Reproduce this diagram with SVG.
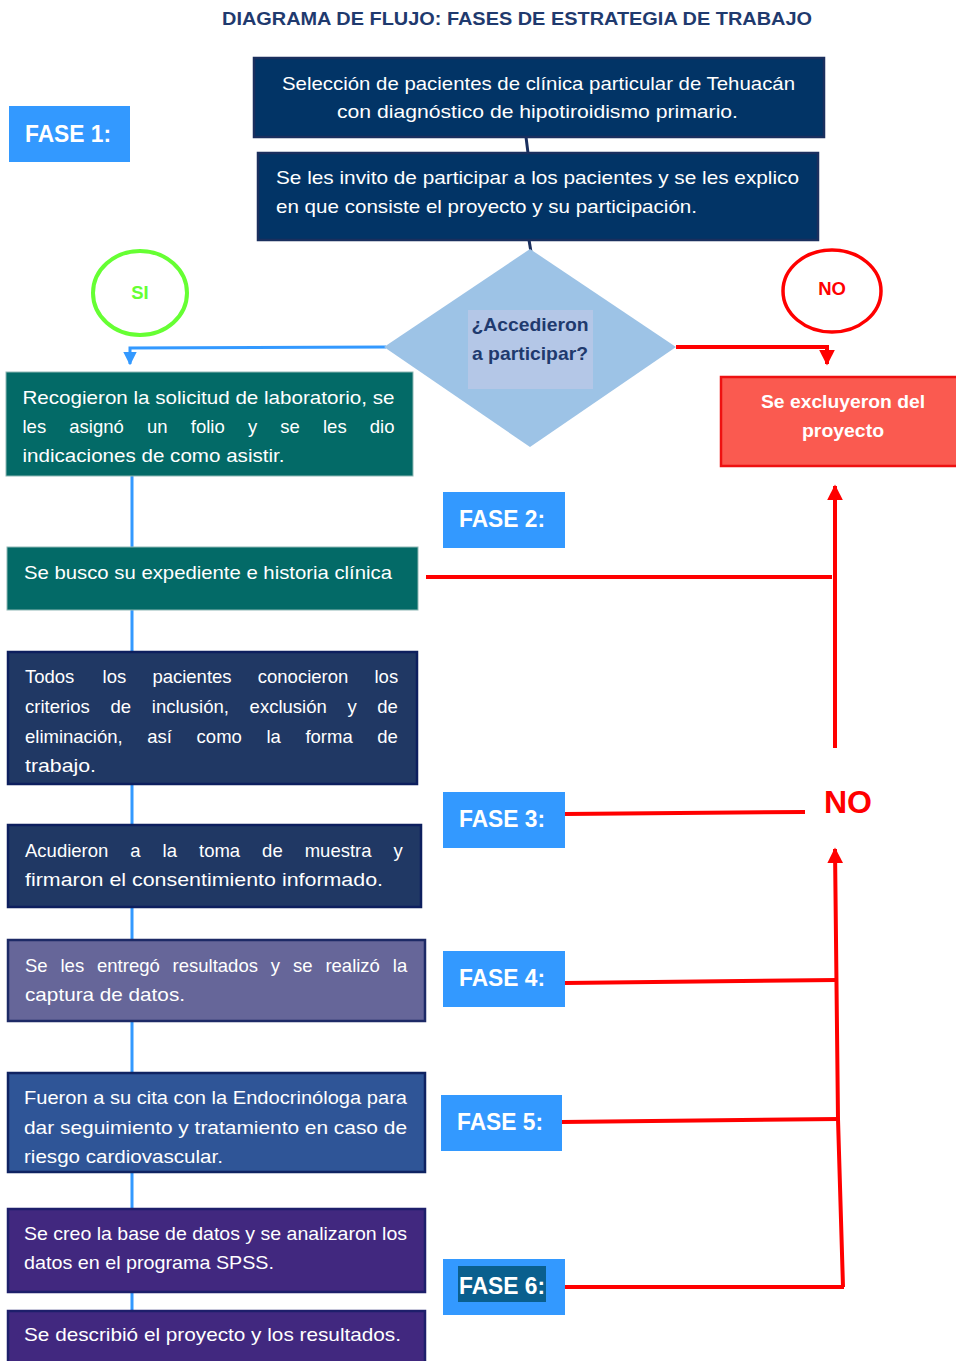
<svg xmlns="http://www.w3.org/2000/svg" width="956" height="1361" viewBox="0 0 956 1361">
<style>
.t{font-family:"Liberation Sans",Arial,sans-serif;font-size:18.5px;fill:#ffffff}
.b{font-weight:bold}
.fase{font-family:"Liberation Sans",Arial,sans-serif;font-size:24px;font-weight:bold;fill:#ffffff}
.fbox{fill:#3399ff}
.navy{fill:#023466;stroke:#1a2f5e;stroke-width:2.5}
.teal{fill:#036a67;stroke:#8fb8b5;stroke-width:1}
.dnavy{fill:#203864;stroke:#0d1f5e;stroke-width:2.5}
.lav{fill:#666699;stroke:#1d2a66;stroke-width:2.5}
.mblue{fill:#2f5597;stroke:#0f2362;stroke-width:2.5}
.purp{fill:#41287f;stroke:#1e1f6b;stroke-width:2.5}
.red{stroke:#ff0000;stroke-width:4;fill:none}
.blue{stroke:#3399ff;stroke-width:3;fill:none}
</style>
<defs>
<marker id="ar" viewBox="0 0 10 10" refX="9" refY="5" markerWidth="4" markerHeight="4" orient="auto" markerUnits="strokeWidth"><path d="M0,0 L10,5 L0,10 z" fill="#ff0000"/></marker>
<marker id="ab" viewBox="0 0 10 10" refX="9" refY="5" markerWidth="4.5" markerHeight="4.5" orient="auto" markerUnits="strokeWidth"><path d="M0,0 L10,5 L0,10 z" fill="#3399ff"/></marker>
<clipPath id="cf"><rect x="7" y="1073" width="418" height="95"/></clipPath>
</defs>
<rect width="956" height="1361" fill="#ffffff"/>

<text x="517" y="25" text-anchor="middle" font-family="Liberation Sans, Arial, sans-serif" font-size="18.5" font-weight="bold" fill="#1f3a6e" textLength="590" lengthAdjust="spacingAndGlyphs">DIAGRAMA DE FLUJO: FASES DE ESTRATEGIA DE TRABAJO</text>

<g id="connectors">
<line x1="132" y1="476" x2="132" y2="1361" class="blue"/>
<line x1="526" y1="137" x2="528" y2="153" stroke="#1a2f5e" stroke-width="3"/>
<line x1="529" y1="240" x2="531" y2="252" stroke="#1a2f5e" stroke-width="3"/>
<polyline points="386,347 130,348 130,364" class="blue" stroke-width="4" marker-end="url(#ab)"/>
<polyline points="676,347 827,347 827,364" class="red" marker-end="url(#ar)"/>
<line x1="426" y1="577" x2="832" y2="577" class="red"/>
<line x1="835" y1="748" x2="835" y2="486" class="red" stroke-width="3.5" marker-end="url(#ar)"/>
<line x1="565" y1="814" x2="805" y2="812" class="red"/>
<polyline points="843,1287 838,1119 835,849" class="red" stroke-width="3.5" marker-end="url(#ar)"/>
<line x1="565" y1="983" x2="837" y2="980" class="red"/>
<line x1="562" y1="1122" x2="839" y2="1119" class="red"/>
<line x1="565" y1="1287" x2="844" y2="1287" class="red"/>
</g>

<g id="fase1"><rect x="9" y="106" width="121" height="56" class="fbox"/><text x="68" y="142" text-anchor="middle" class="fase" textLength="86" lengthAdjust="spacingAndGlyphs">FASE 1:</text></g>
<g id="fase2"><rect x="443" y="492" width="122" height="56" class="fbox"/><text x="502" y="527" text-anchor="middle" class="fase" textLength="86" lengthAdjust="spacingAndGlyphs">FASE 2:</text></g>
<g id="fase3"><rect x="443" y="792" width="122" height="56" class="fbox"/><text x="502" y="827" text-anchor="middle" class="fase" textLength="86" lengthAdjust="spacingAndGlyphs">FASE 3:</text></g>
<g id="fase4"><rect x="443" y="951" width="122" height="56" class="fbox"/><text x="502" y="986" text-anchor="middle" class="fase" textLength="86" lengthAdjust="spacingAndGlyphs">FASE 4:</text></g>
<g id="fase5"><rect x="441" y="1095" width="121" height="56" class="fbox"/><text x="500" y="1130" text-anchor="middle" class="fase" textLength="86" lengthAdjust="spacingAndGlyphs">FASE 5:</text></g>
<g id="fase6"><rect x="443" y="1259" width="122" height="56" class="fbox"/><rect x="458" y="1266" width="88" height="36" fill="#0a5f8e"/><text x="502" y="1294" text-anchor="middle" class="fase" textLength="86" lengthAdjust="spacingAndGlyphs">FASE 6:</text></g>

<g id="seleccion"><rect x="254" y="58" width="570" height="79" class="navy"/>
<text x="538.5" y="90" text-anchor="middle" class="t" textLength="513" lengthAdjust="spacingAndGlyphs">Selección de pacientes de clínica particular de Tehuacán</text>
<text x="537.5" y="118" text-anchor="middle" class="t" textLength="401" lengthAdjust="spacingAndGlyphs">con diagnóstico de hipotiroidismo primario.</text></g>

<g id="invito"><rect x="258" y="153" width="560" height="87" class="navy"/>
<text x="276" y="184" class="t" textLength="523" lengthAdjust="spacingAndGlyphs">Se les invito de participar a los pacientes y se les explico</text>
<text x="276" y="213" class="t" textLength="421" lengthAdjust="spacingAndGlyphs">en que consiste el proyecto y su participación.</text></g>

<g id="decision">
<polygon points="384,347 530,249 676,347 530,447" fill="#9dc3e6"/>
<rect x="468" y="310" width="125" height="79" fill="#b4c7e7"/>
<text x="530" y="331" text-anchor="middle" class="t b" style="fill:#1f3a6e" textLength="117" lengthAdjust="spacingAndGlyphs">¿Accedieron</text>
<text x="530" y="360" text-anchor="middle" class="t b" style="fill:#1f3a6e" textLength="116" lengthAdjust="spacingAndGlyphs">a participar?</text></g>

<g id="si"><ellipse cx="140" cy="293" rx="47" ry="42" fill="#ffffff" stroke="#66ff33" stroke-width="4"/>
<text x="140" y="299" text-anchor="middle" class="t b" style="fill:#66ff33">SI</text></g>

<g id="no1"><ellipse cx="832" cy="291" rx="49" ry="41" fill="#ffffff" stroke="#ff0000" stroke-width="3.5"/>
<text x="832" y="295" text-anchor="middle" class="t b" style="fill:#ff0000">NO</text></g>

<g id="no2"><text x="848" y="813" text-anchor="middle" font-family="Liberation Sans, Arial, sans-serif" font-size="31" font-weight="bold" fill="#ff0000" textLength="48" lengthAdjust="spacingAndGlyphs">NO</text></g>

<g id="excluyeron"><rect x="721" y="377" width="240" height="89" fill="#fa5a50" stroke="#ee1111" stroke-width="2.5"/>
<text x="843" y="408" text-anchor="middle" class="t b" textLength="164" lengthAdjust="spacingAndGlyphs">Se excluyeron del</text>
<text x="843" y="437" text-anchor="middle" class="t b" textLength="82" lengthAdjust="spacingAndGlyphs">proyecto</text></g>

<g id="recogieron"><rect x="6" y="372" width="407" height="104" class="teal"/>
<text x="22.5" y="404" class="t" textLength="372" lengthAdjust="spacingAndGlyphs">Recogieron la solicitud de laboratorio, se</text>
<text y="433" class="t"><tspan x="22.5">les</tspan> <tspan x="69.3">asignó</tspan> <tspan x="147">un</tspan> <tspan x="190.8">folio</tspan> <tspan x="247.9">y</tspan> <tspan x="280.3">se</tspan> <tspan x="323">les</tspan> <tspan x="369.8">dio</tspan></text>
<text x="22.5" y="462" class="t" textLength="262" lengthAdjust="spacingAndGlyphs">indicaciones de como asistir.</text></g>

<g id="busco"><rect x="7" y="547" width="411" height="63" class="teal"/>
<text x="24" y="579" class="t" textLength="368" lengthAdjust="spacingAndGlyphs">Se busco su expediente e historia clínica</text></g>

<g id="todos"><rect x="8" y="652" width="409" height="132" class="dnavy"/>
<text y="683" class="t"><tspan x="25">Todos</tspan> <tspan x="102.6">los</tspan> <tspan x="152.4">pacientes</tspan> <tspan x="257.8">conocieron</tspan> <tspan x="374.5">los</tspan></text>
<text y="713" class="t"><tspan x="25">criterios</tspan> <tspan x="110.5">de</tspan> <tspan x="151.8">inclusión,</tspan> <tspan x="249.6">exclusión</tspan> <tspan x="347.4">y</tspan> <tspan x="377.3">de</tspan></text>
<text y="743" class="t"><tspan x="25">eliminación,</tspan> <tspan x="147.3">así</tspan> <tspan x="196.6">como</tspan> <tspan x="266.4">la</tspan> <tspan x="305.4">forma</tspan> <tspan x="377.3">de</tspan></text>
<text x="25" y="772" class="t" textLength="71" lengthAdjust="spacingAndGlyphs">trabajo.</text></g>

<g id="acudieron"><rect x="8" y="825" width="413" height="82" class="dnavy"/>
<text y="857" class="t"><tspan x="25">Acudieron</tspan> <tspan x="130.3">a</tspan> <tspan x="162.6">la</tspan> <tspan x="199">toma</tspan> <tspan x="262.1">de</tspan> <tspan x="304.7">muestra</tspan> <tspan x="393.5">y</tspan></text>
<text x="25" y="886" class="t" textLength="358" lengthAdjust="spacingAndGlyphs">firmaron el consentimiento informado.</text></g>

<g id="entrego"><rect x="8" y="940" width="417" height="81" class="lav"/>
<text y="972" class="t"><tspan x="25">Se</tspan> <tspan x="60.5">les</tspan> <tspan x="97">entregó</tspan> <tspan x="172.6">resultados</tspan> <tspan x="270.8">y</tspan> <tspan x="293">se</tspan> <tspan x="325.4">realizó</tspan> <tspan x="392.8">la</tspan></text>
<text x="25" y="1001" class="t" textLength="160" lengthAdjust="spacingAndGlyphs">captura de datos.</text></g>

<g id="fueron"><rect x="8" y="1073" width="417" height="99" class="mblue"/>
<g clip-path="url(#cf)">
<text x="24" y="1104" class="t" textLength="383" lengthAdjust="spacingAndGlyphs">Fueron a su cita con la Endocrinóloga para</text>
<text x="24" y="1134" class="t" textLength="383" lengthAdjust="spacingAndGlyphs">dar seguimiento y tratamiento en caso de</text>
<text x="24" y="1163" class="t" textLength="199" lengthAdjust="spacingAndGlyphs">riesgo cardiovascular.</text></g></g>

<g id="basedatos"><rect x="8" y="1209" width="417" height="83" class="purp"/>
<text x="24" y="1240" class="t" textLength="383" lengthAdjust="spacingAndGlyphs">Se creo la base de datos y se analizaron los</text>
<text x="24" y="1269" class="t" textLength="250" lengthAdjust="spacingAndGlyphs">datos en el programa SPSS.</text></g>

<g id="describio"><rect x="8" y="1311" width="417" height="60" class="purp"/>
<text x="24" y="1341" class="t" textLength="377" lengthAdjust="spacingAndGlyphs">Se describió  el proyecto y los resultados.</text></g>
</svg>
